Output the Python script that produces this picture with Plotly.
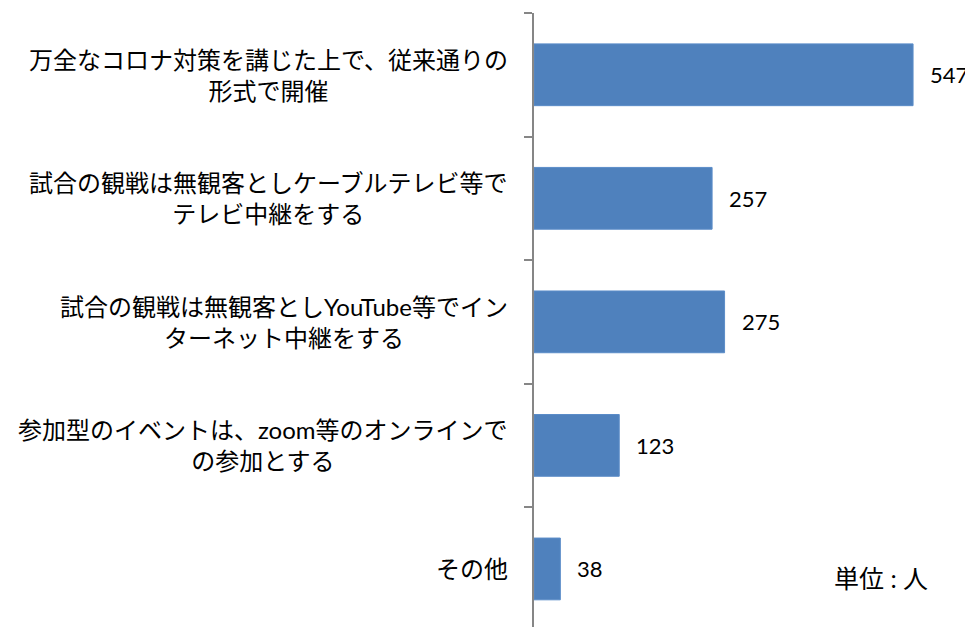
import plotly.graph_objects as go

categories = ["c1", "c2", "c3", "c4", "c5"]
labels = [
    "万全なコロナ対策を講じた上で、従来通りの<br>形式で開催",
    "試合の観戦は無観客としケーブルテレビ等で<br>テレビ中継をする",
    "試合の観戦は無観客としYouTube等でイン<br>ターネット中継をする",
    "参加型のイベントは、zoom等のオンラインで<br>の参加とする",
    "その他",
]
values = [547, 257, 275, 123, 38]
unit_text = "単位 : 人"

JP = "Lato, Noto Sans CJK JP, sans-serif"

fig = go.Figure(go.Bar(
    y=categories, x=values, orientation="h",
    marker=dict(color="#4F81BD", line=dict(color="#5B8CC8", width=1)),
    width=0.5,
))

annotations = []
for c, lab in zip(categories, labels):
    annotations.append(dict(
        xref="paper", x=0, yref="y", y=c, text=lab, showarrow=False,
        xanchor="right", yanchor="middle", xshift=-24, align="center",
        font=dict(family=JP, size=24, color="#000000"),
    ))
for c, v in zip(categories, values):
    annotations.append(dict(
        xref="x", x=v, yref="y", y=c, text=str(v), showarrow=False,
        xanchor="left", yanchor="middle", xshift=15,
        font=dict(family="Lato, sans-serif", size=22, color="#000000"),
    ))
annotations.append(dict(
    xref="paper", yref="paper", x=0.79, y=0.08, text=unit_text, showarrow=False,
    xanchor="center", yanchor="middle",
    font=dict(family=JP, size=25, color="#000000"),
))

fig.update_layout(
    width=965, height=619,
    margin=dict(l=526, r=0, t=5, b=0),
    paper_bgcolor="white", plot_bgcolor="white",
    showlegend=False,
    annotations=annotations,
    xaxis=dict(range=[0, 633.5], visible=False, showgrid=False, zeroline=False),
    yaxis=dict(
        range=[4.47, -0.5], showticklabels=False, ticks="outside",
        tickson="boundaries", ticklen=8, tickwidth=1.5, tickcolor="#868686",
        showline=True, linecolor="#868686", linewidth=1.5,
        showgrid=False, zeroline=False,
    ),
)

fig.write_html("out.html")
